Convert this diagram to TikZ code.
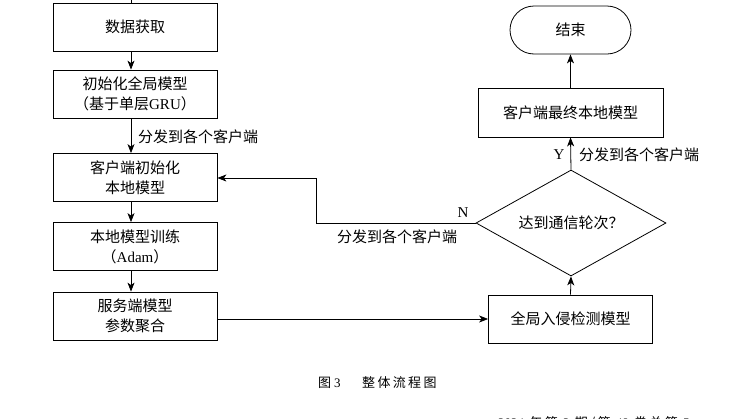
\documentclass[tikz,border=0pt]{standalone}
\usepackage{fontspec}
\setmainfont{Liberation Serif}
\newfontfamily\cjk{Noto Sans CJK SC}
\newfontfamily\cjkcap[LetterSpace=18]{Noto Sans CJK SC}
\usetikzlibrary{arrows.meta,shapes.geometric}
\tikzset{
  box/.style={draw, line width=0.8pt, minimum width=164, minimum height=48, inner sep=0, align=center,
    font=\fontsize{15}{20}\selectfont\cjk},
  lbl/.style={inner sep=0, font=\fontsize{15}{20}\selectfont\cjk},
  latin/.style={inner sep=0, font=\fontsize{15}{18}\selectfont\rmfamily},
  arr/.style={line width=0.8pt, -{Stealth[length=9pt,width=7pt,inset=2.5pt]}},
  ln/.style={line width=0.8pt},
}
\begin{document}
\begin{tikzpicture}[x=1pt,y=-1pt]
\useasboundingbox (0,0) rectangle (742,418);
\clip (0,0) rectangle (742,418);
% left column
\node[box] (get) at (135,27) {数据获取};
\node[box] (init) at (135,94) {初始化全局模型\\（基于单层{\rmfamily GRU}）};
\node[box] (client) at (135,177.5) {客户端初始化\\本地模型};
\node[box] (train) at (135,246.5) {本地模型训练\\（{\rmfamily Adam}）};
\node[box] (agg) at (135,316) {服务端模型\\参数聚合};
% right column
\node[box] (glob) at (570.5,319) {全局入侵检测模型};
\node[draw, line width=0.8pt, diamond, aspect=1.8, minimum width=190, minimum height=106, inner sep=0,
  font=\fontsize{15}{20}\selectfont\cjk] (dia) at (571,223) {达到通信轮次？};
\node[box, minimum width=185, minimum height=49] (final) at (570.5,112.5) {客户端最终本地模型};
\node[box, minimum width=121, minimum height=48, rounded corners=24] (end) at (570.5,30) {结束};
% top stub
\coordinate (top) at (131,0);
\draw[ln] (top) -- (top |- get.north);
% left arrows
\draw[arr] ([xshift=-4]get.south) -- ([xshift=-4]init.north);
\draw[arr] ([xshift=-4]init.south) -- ([xshift=-4]client.north);
\draw[arr] ([xshift=-4]client.south) -- ([xshift=-4]train.north);
\draw[arr] ([xshift=-4]train.south) -- ([xshift=-4]agg.north);
\node[lbl, anchor=west] (l1) at (138,137) {分发到各个客户端};
% to global model
\draw[arr] (agg.east |- glob.west) -- (glob.west);
% right arrows
\draw[arr] (glob.north) -- (dia.south);
\draw[arr] (dia.north) -- (final.south);
\draw[arr] (final.north) -- (end.south);
\node[latin] (ylab) at (559,155) {Y};
\node[lbl, anchor=west] (l2) at (579,155) {分发到各个客户端};
% feedback
\coordinate (c1) at (316,223);
\coordinate (c2) at (316,178);
\draw[arr] (dia.west) -- (c1) -- (c2) -- (client.east |- c2);
\node[latin] (nlab) at (463,213) {N};
\node[lbl] (l3) at (397,237) {分发到各个客户端};
% caption
\node[inner sep=0, anchor=west, font=\fontsize{13}{15}\selectfont\cjkcap] (cap1) at (318,383) {图\hspace{3pt}{\rmfamily 3}};
\node[inner sep=0, anchor=west, font=\fontsize{13}{15}\selectfont\cjkcap] (cap2) at (362,383) {整体流程图};
% clipped page header (cut off at the bottom edge, as in the reference)
\node[inner sep=0, anchor=west, font=\fontsize{13}{15}\selectfont\cjkcap] (hdr) at (498,423) {{\rmfamily 2024} 年第 {\rmfamily 3} 期/第 {\rmfamily 48} 卷总第 {\rmfamily 5}};
\end{tikzpicture}
\end{document}
